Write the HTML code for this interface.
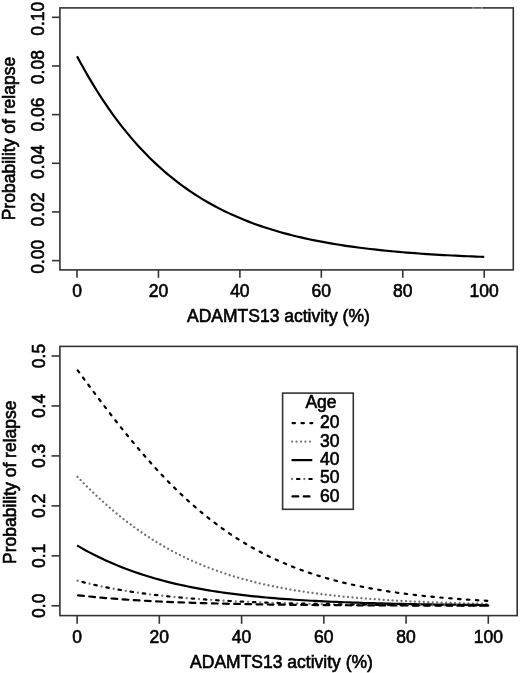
<!DOCTYPE html><html><head><meta charset="utf-8"><style>html,body{margin:0;padding:0;background:#fff;overflow:hidden}svg{display:block;filter:blur(0.4px)}text{font-family:"Liberation Sans",sans-serif;font-size:17.5px;fill:#000;stroke:#000;stroke-width:0.6}</style></head><body>
<svg width="520" height="673" viewBox="0 0 520 673">
<rect width="520" height="673" fill="#fff"/>
<g fill="none" stroke="#333" stroke-width="1.6">
<rect x="59.9" y="7.9" width="453.4" height="262.0"/>
<line x1="77.00" y1="269.9" x2="77.00" y2="277.8"/>
<line x1="158.44" y1="269.9" x2="158.44" y2="277.8"/>
<line x1="239.88" y1="269.9" x2="239.88" y2="277.8"/>
<line x1="321.32" y1="269.9" x2="321.32" y2="277.8"/>
<line x1="402.76" y1="269.9" x2="402.76" y2="277.8"/>
<line x1="484.20" y1="269.9" x2="484.20" y2="277.8"/>
<line x1="52" y1="260.60" x2="59.9" y2="260.60"/>
<line x1="52" y1="211.94" x2="59.9" y2="211.94"/>
<line x1="52" y1="163.28" x2="59.9" y2="163.28"/>
<line x1="52" y1="114.62" x2="59.9" y2="114.62"/>
<line x1="52" y1="65.96" x2="59.9" y2="65.96"/>
<line x1="52" y1="17.30" x2="59.9" y2="17.30"/>
</g>
<rect x="472.3" y="6.8" width="10.4" height="2.2" fill="#fff" opacity="0.12"/>
<rect x="472.4" y="6.8" width="1.0" height="2.2" fill="#fff" opacity="0.4"/>
<rect x="481.4" y="6.8" width="1.0" height="2.2" fill="#fff" opacity="0.4"/>
<path d="M77.00,56.23 L81.07,63.77 L85.14,71.06 L89.22,78.11 L93.29,84.91 L97.36,91.48 L101.43,97.82 L105.50,103.93 L109.58,109.84 L113.65,115.53 L117.72,121.03 L121.79,126.32 L125.86,131.43 L129.94,136.35 L134.01,141.10 L138.08,145.67 L142.15,150.08 L146.22,154.33 L150.30,158.42 L154.37,162.36 L158.44,166.15 L162.51,169.80 L166.58,173.32 L170.66,176.70 L174.73,179.96 L178.80,183.10 L182.87,186.12 L186.94,189.02 L191.02,191.81 L195.09,194.50 L199.16,197.09 L203.23,199.58 L207.30,201.97 L211.38,204.27 L215.45,206.48 L219.52,208.61 L223.59,210.65 L227.66,212.62 L231.74,214.51 L235.81,216.33 L239.88,218.08 L243.95,219.76 L248.02,221.37 L252.10,222.92 L256.17,224.41 L260.24,225.85 L264.31,227.22 L268.38,228.55 L272.46,229.82 L276.53,231.04 L280.60,232.21 L284.67,233.34 L288.74,234.42 L292.82,235.46 L296.89,236.46 L300.96,237.42 L305.03,238.35 L309.10,239.23 L313.18,240.08 L317.25,240.90 L321.32,241.69 L325.39,242.44 L329.46,243.16 L333.54,243.86 L337.61,244.53 L341.68,245.17 L345.75,245.79 L349.82,246.38 L353.90,246.95 L357.97,247.49 L362.04,248.02 L366.11,248.52 L370.18,249.00 L374.26,249.46 L378.33,249.91 L382.40,250.34 L386.47,250.75 L390.54,251.14 L394.62,251.52 L398.69,251.88 L402.76,252.23 L406.83,252.57 L410.90,252.89 L414.98,253.20 L419.05,253.50 L423.12,253.78 L427.19,254.05 L431.26,254.32 L435.34,254.57 L439.41,254.81 L443.48,255.04 L447.55,255.26 L451.62,255.48 L455.70,255.68 L459.77,255.88 L463.84,256.07 L467.91,256.25 L471.98,256.43 L476.06,256.59 L480.13,256.75 L484.20,256.91" fill="none" stroke="#000" stroke-width="2.2" stroke-linejoin="round"/>
<text x="77.00" y="296.8" text-anchor="middle">0</text>
<text x="158.44" y="296.8" text-anchor="middle">20</text>
<text x="239.88" y="296.8" text-anchor="middle">40</text>
<text x="321.32" y="296.8" text-anchor="middle">60</text>
<text x="402.76" y="296.8" text-anchor="middle">80</text>
<text x="484.20" y="296.8" text-anchor="middle">100</text>
<text transform="translate(44.4 256.70) rotate(-90)" text-anchor="middle">0.00</text>
<text transform="translate(44.4 209.50) rotate(-90)" text-anchor="middle">0.02</text>
<text transform="translate(44.4 161.90) rotate(-90)" text-anchor="middle">0.04</text>
<text transform="translate(44.4 114.50) rotate(-90)" text-anchor="middle">0.06</text>
<text transform="translate(44.4 67.10) rotate(-90)" text-anchor="middle">0.08</text>
<text transform="translate(44.4 18.80) rotate(-90)" text-anchor="middle">0.10</text>
<text x="278.4" y="321.8" text-anchor="middle">ADAMTS13 activity (%)</text>
<text transform="translate(14.7 138.6) rotate(-90)" text-anchor="middle">Probability of relapse</text>
<g fill="none" stroke="#333" stroke-width="1.6">
<rect x="59.9" y="346.4" width="457.3" height="269.2"/>
<line x1="77.10" y1="615.6" x2="77.10" y2="623.8"/>
<line x1="159.34" y1="615.6" x2="159.34" y2="623.8"/>
<line x1="241.58" y1="615.6" x2="241.58" y2="623.8"/>
<line x1="323.82" y1="615.6" x2="323.82" y2="623.8"/>
<line x1="406.06" y1="615.6" x2="406.06" y2="623.8"/>
<line x1="488.30" y1="615.6" x2="488.30" y2="623.8"/>
<line x1="51.5" y1="605.80" x2="59.9" y2="605.80"/>
<line x1="51.5" y1="555.84" x2="59.9" y2="555.84"/>
<line x1="51.5" y1="505.88" x2="59.9" y2="505.88"/>
<line x1="51.5" y1="455.92" x2="59.9" y2="455.92"/>
<line x1="51.5" y1="405.96" x2="59.9" y2="405.96"/>
<line x1="51.5" y1="356.00" x2="59.9" y2="356.00"/>
</g>
<path d="M77.10,369.54 L81.21,375.13 L85.32,380.71 L89.44,386.26 L93.55,391.79 L97.66,397.27 L101.77,402.72 L105.88,408.12 L110.00,413.47 L114.11,418.76 L118.22,424.00 L122.33,429.17 L126.44,434.27 L130.56,439.31 L134.67,444.26 L138.78,449.14 L142.89,453.94 L147.00,458.65 L151.12,463.28 L155.23,467.82 L159.34,472.27 L163.45,476.63 L167.56,480.89 L171.68,485.06 L175.79,489.13 L179.90,493.11 L184.01,496.98 L188.12,500.77 L192.24,504.45 L196.35,508.04 L200.46,511.53 L204.57,514.92 L208.68,518.22 L212.80,521.42 L216.91,524.53 L221.02,527.55 L225.13,530.47 L229.24,533.30 L233.36,536.05 L237.47,538.71 L241.58,541.28 L245.69,543.76 L249.80,546.17 L253.92,548.49 L258.03,550.73 L262.14,552.90 L266.25,554.99 L270.36,557.01 L274.48,558.95 L278.59,560.83 L282.70,562.64 L286.81,564.38 L290.92,566.06 L295.04,567.67 L299.15,569.23 L303.26,570.72 L307.37,572.16 L311.48,573.55 L315.60,574.88 L319.71,576.16 L323.82,577.39 L327.93,578.57 L332.04,579.71 L336.16,580.80 L340.27,581.85 L344.38,582.85 L348.49,583.82 L352.60,584.74 L356.72,585.63 L360.83,586.49 L364.94,587.30 L369.05,588.09 L373.16,588.84 L377.28,589.56 L381.39,590.26 L385.50,590.92 L389.61,591.56 L393.72,592.17 L397.84,592.75 L401.95,593.31 L406.06,593.85 L410.17,594.36 L414.28,594.85 L418.40,595.32 L422.51,595.78 L426.62,596.21 L430.73,596.62 L434.84,597.02 L438.96,597.40 L443.07,597.76 L447.18,598.11 L451.29,598.44 L455.40,598.76 L459.52,599.07 L463.63,599.36 L467.74,599.64 L471.85,599.91 L475.96,600.17 L480.08,600.41 L484.19,600.65 L488.30,600.87" fill="none" stroke="#000" stroke-width="2.2" stroke-linecap="round" stroke-dasharray="2.488 6.448" stroke-dashoffset="-0.990"/>
<path d="M77.10,476.39 L81.21,480.66 L85.32,484.85 L89.44,488.93 L93.55,492.92 L97.66,496.81 L101.77,500.61 L105.88,504.30 L110.00,507.90 L114.11,511.40 L118.22,514.81 L122.33,518.12 L126.44,521.33 L130.56,524.45 L134.67,527.47 L138.78,530.41 L142.89,533.25 L147.00,536.00 L151.12,538.67 L155.23,541.24 L159.34,543.74 L163.45,546.15 L167.56,548.48 L171.68,550.72 L175.79,552.90 L179.90,554.99 L184.01,557.01 L188.12,558.96 L192.24,560.84 L196.35,562.65 L200.46,564.40 L204.57,566.08 L208.68,567.70 L212.80,569.25 L216.91,570.75 L221.02,572.19 L225.13,573.58 L229.24,574.91 L233.36,576.20 L237.47,577.43 L241.58,578.61 L245.69,579.75 L249.80,580.84 L253.92,581.89 L258.03,582.89 L262.14,583.86 L266.25,584.79 L270.36,585.67 L274.48,586.53 L278.59,587.35 L282.70,588.13 L286.81,588.88 L290.92,589.61 L295.04,590.30 L299.15,590.96 L303.26,591.60 L307.37,592.21 L311.48,592.79 L315.60,593.35 L319.71,593.89 L323.82,594.40 L327.93,594.89 L332.04,595.36 L336.16,595.81 L340.27,596.24 L344.38,596.66 L348.49,597.05 L352.60,597.43 L356.72,597.80 L360.83,598.14 L364.94,598.48 L369.05,598.80 L373.16,599.10 L377.28,599.39 L381.39,599.67 L385.50,599.94 L389.61,600.19 L393.72,600.44 L397.84,600.67 L401.95,600.90 L406.06,601.11 L410.17,601.32 L414.28,601.51 L418.40,601.70 L422.51,601.88 L426.62,602.05 L430.73,602.21 L434.84,602.37 L438.96,602.52 L443.07,602.67 L447.18,602.80 L451.29,602.93 L455.40,603.06 L459.52,603.18 L463.63,603.29 L467.74,603.40 L471.85,603.51 L475.96,603.61 L480.08,603.71 L484.19,603.80 L488.30,603.89" fill="none" stroke="#737373" stroke-width="2.3" stroke-linecap="round" stroke-dasharray="0.010 4.458" stroke-dashoffset="-0.558"/>
<path d="M77.10,545.51 L81.21,547.88 L85.32,550.17 L89.44,552.38 L93.55,554.51 L97.66,556.57 L101.77,558.55 L105.88,560.46 L110.00,562.30 L114.11,564.08 L118.22,565.78 L122.33,567.43 L126.44,569.01 L130.56,570.53 L134.67,571.99 L138.78,573.40 L142.89,574.75 L147.00,576.05 L151.12,577.30 L155.23,578.49 L159.34,579.65 L163.45,580.75 L167.56,581.81 L171.68,582.83 L175.79,583.81 L179.90,584.74 L184.01,585.64 L188.12,586.50 L192.24,587.33 L196.35,588.12 L200.46,588.88 L204.57,589.61 L208.68,590.31 L212.80,590.98 L216.91,591.62 L221.02,592.23 L225.13,592.82 L229.24,593.38 L233.36,593.92 L237.47,594.44 L241.58,594.93 L245.69,595.41 L249.80,595.86 L253.92,596.29 L258.03,596.71 L262.14,597.10 L266.25,597.49 L270.36,597.85 L274.48,598.20 L278.59,598.53 L282.70,598.85 L286.81,599.15 L290.92,599.45 L295.04,599.73 L299.15,599.99 L303.26,600.25 L307.37,600.49 L311.48,600.73 L315.60,600.95 L319.71,601.16 L323.82,601.37 L327.93,601.56 L332.04,601.75 L336.16,601.93 L340.27,602.10 L344.38,602.26 L348.49,602.42 L352.60,602.57 L356.72,602.71 L360.83,602.85 L364.94,602.98 L369.05,603.10 L373.16,603.22 L377.28,603.34 L381.39,603.45 L385.50,603.55 L389.61,603.65 L393.72,603.75 L397.84,603.84 L401.95,603.92 L406.06,604.01 L410.17,604.09 L414.28,604.16 L418.40,604.23 L422.51,604.30 L426.62,604.37 L430.73,604.43 L434.84,604.49 L438.96,604.55 L443.07,604.61 L447.18,604.66 L451.29,604.71 L455.40,604.76 L459.52,604.81 L463.63,604.85 L467.74,604.89 L471.85,604.93 L475.96,604.97 L480.08,605.01 L484.19,605.04 L488.30,605.08" fill="none" stroke="#000" stroke-width="2.2" stroke-linejoin="round"/>
<path d="M77.10,580.62 L81.21,581.69 L85.32,582.72 L89.44,583.71 L93.55,584.66 L97.66,585.56 L101.77,586.43 L105.88,587.27 L110.00,588.07 L114.11,588.84 L118.22,589.57 L122.33,590.28 L126.44,590.95 L130.56,591.60 L134.67,592.21 L138.78,592.81 L142.89,593.37 L147.00,593.92 L151.12,594.44 L155.23,594.93 L159.34,595.41 L163.45,595.87 L167.56,596.30 L171.68,596.72 L175.79,597.12 L179.90,597.50 L184.01,597.87 L188.12,598.22 L192.24,598.55 L196.35,598.87 L200.46,599.18 L204.57,599.47 L208.68,599.75 L212.80,600.02 L216.91,600.27 L221.02,600.52 L225.13,600.75 L229.24,600.98 L233.36,601.19 L237.47,601.39 L241.58,601.59 L245.69,601.78 L249.80,601.96 L253.92,602.13 L258.03,602.29 L262.14,602.45 L266.25,602.60 L270.36,602.74 L274.48,602.87 L278.59,603.00 L282.70,603.13 L286.81,603.25 L290.92,603.36 L295.04,603.47 L299.15,603.57 L303.26,603.67 L307.37,603.77 L311.48,603.86 L315.60,603.95 L319.71,604.03 L323.82,604.11 L327.93,604.18 L332.04,604.25 L336.16,604.32 L340.27,604.39 L344.38,604.45 L348.49,604.51 L352.60,604.57 L356.72,604.63 L360.83,604.68 L364.94,604.73 L369.05,604.78 L373.16,604.82 L377.28,604.87 L381.39,604.91 L385.50,604.95 L389.61,604.99 L393.72,605.02 L397.84,605.06 L401.95,605.09 L406.06,605.12 L410.17,605.15 L414.28,605.18 L418.40,605.21 L422.51,605.23 L426.62,605.26 L430.73,605.28 L434.84,605.31 L438.96,605.33 L443.07,605.35 L447.18,605.37 L451.29,605.39 L455.40,605.41 L459.52,605.43 L463.63,605.44 L467.74,605.46 L471.85,605.47 L475.96,605.49 L480.08,605.50 L484.19,605.52 L488.30,605.53" fill="none" stroke="#737373" stroke-width="2.3" stroke-linecap="round" stroke-dasharray="0.010 12.277" stroke-dashoffset="-0.558"/><path d="M77.10,580.62 L81.21,581.69 L85.32,582.72 L89.44,583.71 L93.55,584.66 L97.66,585.56 L101.77,586.43 L105.88,587.27 L110.00,588.07 L114.11,588.84 L118.22,589.57 L122.33,590.28 L126.44,590.95 L130.56,591.60 L134.67,592.21 L138.78,592.81 L142.89,593.37 L147.00,593.92 L151.12,594.44 L155.23,594.93 L159.34,595.41 L163.45,595.87 L167.56,596.30 L171.68,596.72 L175.79,597.12 L179.90,597.50 L184.01,597.87 L188.12,598.22 L192.24,598.55 L196.35,598.87 L200.46,599.18 L204.57,599.47 L208.68,599.75 L212.80,600.02 L216.91,600.27 L221.02,600.52 L225.13,600.75 L229.24,600.98 L233.36,601.19 L237.47,601.39 L241.58,601.59 L245.69,601.78 L249.80,601.96 L253.92,602.13 L258.03,602.29 L262.14,602.45 L266.25,602.60 L270.36,602.74 L274.48,602.87 L278.59,603.00 L282.70,603.13 L286.81,603.25 L290.92,603.36 L295.04,603.47 L299.15,603.57 L303.26,603.67 L307.37,603.77 L311.48,603.86 L315.60,603.95 L319.71,604.03 L323.82,604.11 L327.93,604.18 L332.04,604.25 L336.16,604.32 L340.27,604.39 L344.38,604.45 L348.49,604.51 L352.60,604.57 L356.72,604.63 L360.83,604.68 L364.94,604.73 L369.05,604.78 L373.16,604.82 L377.28,604.87 L381.39,604.91 L385.50,604.95 L389.61,604.99 L393.72,605.02 L397.84,605.06 L401.95,605.09 L406.06,605.12 L410.17,605.15 L414.28,605.18 L418.40,605.21 L422.51,605.23 L426.62,605.26 L430.73,605.28 L434.84,605.31 L438.96,605.33 L443.07,605.35 L447.18,605.37 L451.29,605.39 L455.40,605.41 L459.52,605.43 L463.63,605.44 L467.74,605.46 L471.85,605.47 L475.96,605.49 L480.08,605.50 L484.19,605.52 L488.30,605.53" fill="none" stroke="#000" stroke-width="2.2" stroke-linecap="round" stroke-dasharray="2.488 9.799" stroke-dashoffset="6.829"/>
<path d="M77.10,595.21 L81.21,595.67 L85.32,596.11 L89.44,596.53 L93.55,596.94 L97.66,597.32 L101.77,597.70 L105.88,598.05 L110.00,598.39 L114.11,598.71 L118.22,599.03 L122.33,599.32 L126.44,599.61 L130.56,599.88 L134.67,600.14 L138.78,600.39 L142.89,600.63 L147.00,600.86 L151.12,601.07 L155.23,601.28 L159.34,601.48 L163.45,601.67 L167.56,601.85 L171.68,602.03 L175.79,602.19 L179.90,602.35 L184.01,602.51 L188.12,602.65 L192.24,602.79 L196.35,602.92 L200.46,603.05 L204.57,603.17 L208.68,603.29 L212.80,603.40 L216.91,603.51 L221.02,603.61 L225.13,603.70 L229.24,603.80 L233.36,603.89 L237.47,603.97 L241.58,604.05 L245.69,604.13 L249.80,604.20 L253.92,604.27 L258.03,604.34 L262.14,604.41 L266.25,604.47 L270.36,604.53 L274.48,604.58 L278.59,604.64 L282.70,604.69 L286.81,604.74 L290.92,604.79 L295.04,604.83 L299.15,604.87 L303.26,604.92 L307.37,604.95 L311.48,604.99 L315.60,605.03 L319.71,605.06 L323.82,605.10 L327.93,605.13 L332.04,605.16 L336.16,605.18 L340.27,605.21 L344.38,605.24 L348.49,605.26 L352.60,605.29 L356.72,605.31 L360.83,605.33 L364.94,605.35 L369.05,605.37 L373.16,605.39 L377.28,605.41 L381.39,605.43 L385.50,605.44 L389.61,605.46 L393.72,605.47 L397.84,605.49 L401.95,605.50 L406.06,605.52 L410.17,605.53 L414.28,605.54 L418.40,605.55 L422.51,605.56 L426.62,605.57 L430.73,605.58 L434.84,605.59 L438.96,605.60 L443.07,605.61 L447.18,605.62 L451.29,605.63 L455.40,605.64 L459.52,605.64 L463.63,605.65 L467.74,605.66 L471.85,605.66 L475.96,605.67 L480.08,605.67 L484.19,605.68 L488.30,605.69" fill="none" stroke="#000" stroke-width="2.2" stroke-linecap="round" stroke-dasharray="5.839 5.331" stroke-dashoffset="-0.990"/>
<text x="77.10" y="642.6" text-anchor="middle">0</text>
<text x="159.34" y="642.6" text-anchor="middle">20</text>
<text x="241.58" y="642.6" text-anchor="middle">40</text>
<text x="323.82" y="642.6" text-anchor="middle">60</text>
<text x="406.06" y="642.6" text-anchor="middle">80</text>
<text x="488.30" y="642.6" text-anchor="middle">100</text>
<text transform="translate(44.6 605.80) rotate(-90)" text-anchor="middle">0.0</text>
<text transform="translate(44.6 555.84) rotate(-90)" text-anchor="middle">0.1</text>
<text transform="translate(44.6 505.88) rotate(-90)" text-anchor="middle">0.2</text>
<text transform="translate(44.6 455.92) rotate(-90)" text-anchor="middle">0.3</text>
<text transform="translate(44.6 405.96) rotate(-90)" text-anchor="middle">0.4</text>
<text transform="translate(44.6 356.00) rotate(-90)" text-anchor="middle">0.5</text>
<text x="281.5" y="667.8" text-anchor="middle">ADAMTS13 activity (%)</text>
<text transform="translate(16.1 482.2) rotate(-90)" text-anchor="middle">Probability of relapse</text>
<rect x="282.6" y="393.1" width="70.7" height="116.2" fill="#fff" stroke="#333" stroke-width="1.6"/>
<text x="321" y="408" text-anchor="middle">Age</text>
<path d="M291.5,423.1 L312.3,423.1" fill="none" stroke="#000" stroke-width="2.2" stroke-linecap="round" stroke-dasharray="2.488 6.448" stroke-dashoffset="-0.990"/>
<path d="M291.5,441.6 L312.3,441.6" fill="none" stroke="#737373" stroke-width="2.3" stroke-linecap="round" stroke-dasharray="0.010 4.458" stroke-dashoffset="-0.558"/>
<path d="M291.5,460.1 L312.3,460.1" fill="none" stroke="#000" stroke-width="2.2" stroke-linejoin="round"/>
<path d="M291.5,479.0 L312.3,479.0" fill="none" stroke="#737373" stroke-width="2.3" stroke-linecap="round" stroke-dasharray="0.010 12.277" stroke-dashoffset="-0.558"/><path d="M291.5,479.0 L312.3,479.0" fill="none" stroke="#000" stroke-width="2.2" stroke-linecap="round" stroke-dasharray="2.488 9.799" stroke-dashoffset="6.829"/>
<path d="M291.5,496.4 L312.3,496.4" fill="none" stroke="#000" stroke-width="2.2" stroke-linecap="round" stroke-dasharray="5.839 5.331" stroke-dashoffset="-0.990"/>
<text x="320" y="428.2">20</text>
<text x="320" y="446.5">30</text>
<text x="320" y="464.9">40</text>
<text x="320" y="483.3">50</text>
<text x="320" y="501.6">60</text>
</svg></body></html>
